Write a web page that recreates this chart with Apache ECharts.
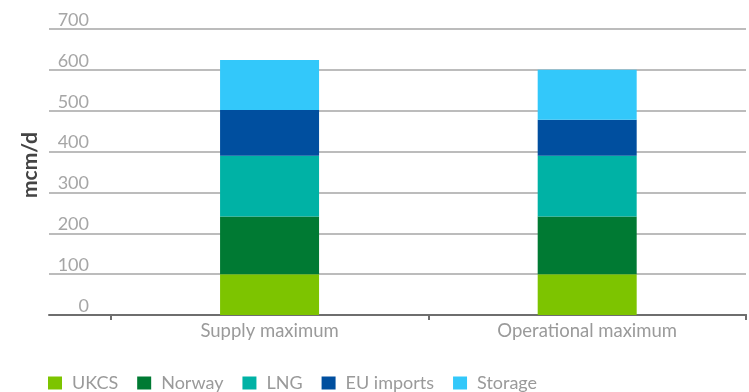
<!DOCTYPE html>
<html>
<head>
<meta charset="utf-8">
<script src="https://cdn.jsdelivr.net/npm/echarts@6/dist/echarts.min.js"></script>
<style>
  html, body { margin: 0; padding: 0; background: #fff; }
  #chart { width: 749px; height: 392px; }
</style>
</head>
<body>
<div id="chart"></div>
<script>
// Gas supply capacity scenarios (mcm/d)
const categories = ['Supply maximum', 'Operational maximum'];
const seriesNames = ['UKCS', 'Norway', 'LNG', 'EU imports', 'Storage'];
const ukcs      = [100, 100];
const norway    = [141, 141];
const lng       = [149, 149];
const euImports = [112, 88];
const storage   = [122, 122];
const colors = ['#7dc400', '#007a33', '#00b2a5', '#004f9f', '#33c8fa'];

const values = [ukcs, norway, lng, euImports, storage];
const FONT = 'Lato, "Open Sans", sans-serif';

const chart = echarts.init(document.getElementById('chart'), null, { renderer: 'canvas' });

chart.setOption({
  animation: false,
  textStyle: { fontFamily: FONT },
  grid: [
    { left: 49, right: 3, top: 29, bottom: 77 },
    { left: 110.75, right: 3, top: 29, bottom: 77 }
  ],
  xAxis: [
    {
      gridIndex: 0, type: 'value', min: 0, max: 1,
      axisLine: { show: true, lineStyle: { color: '#6e6e6e', width: 2 } },
      axisTick: { show: false }, axisLabel: { show: false }, splitLine: { show: false }
    },
    {
      gridIndex: 1, type: 'category', data: categories,
      axisLine: { show: true, lineStyle: { color: '#6e6e6e', width: 2 } },
      axisTick: { show: true, length: 5, lineStyle: { color: '#6e6e6e', width: 2 } },
      axisLabel: { color: '#9a9a9a', fontSize: 18.5, margin: 7, fontFamily: FONT }
    }
  ],
  yAxis: [
    {
      gridIndex: 0, type: 'value', min: 0, max: 700, interval: 100,
      name: 'mcm/d', nameLocation: 'middle', nameGap: 7, nameRotate: 90,
      nameTextStyle: {
        color: '#444', fontSize: 21, fontWeight: 'bold', fontFamily: FONT,
        padding: [0, 0, 0, 14]
      },
      axisLine: { show: false }, axisTick: { show: false },
      axisLabel: {
        inside: true, margin: 40, align: 'right', verticalAlign: 'bottom',
        color: '#a6a6a6', fontSize: 18, lineHeight: 18, fontFamily: FONT
      },
      splitLine: { show: true, lineStyle: { color: '#a6a6a6', width: 1.5 } }
    },
    {
      gridIndex: 1, type: 'value', min: 0, max: 700, interval: 100, show: false,
      splitLine: { show: false }
    }
  ],
  legend: {
    left: 48, top: 374, padding: 0,
    icon: 'rect', itemWidth: 14, itemHeight: 13, itemGap: 19,
    textStyle: { color: '#9a9a9a', fontSize: 18, fontFamily: FONT, padding: [0, 0, 0, 5] },
    data: seriesNames
  },
  series: seriesNames.map((name, i) => ({
    name: name,
    type: 'bar',
    stack: 'supply',
    xAxisIndex: 1,
    yAxisIndex: 1,
    barWidth: 99,
    itemStyle: { color: colors[i] },
    data: values[i]
  }))
});
</script>
</body>
</html>
